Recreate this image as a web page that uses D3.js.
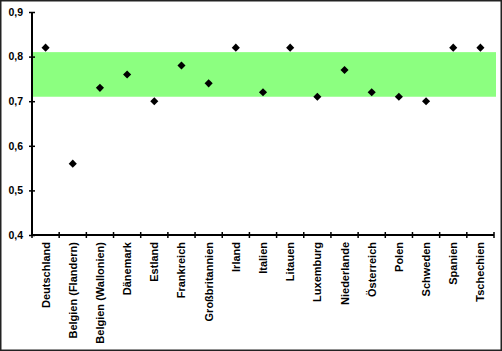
<!DOCTYPE html>
<html><head><meta charset="utf-8">
<script src="https://cdn.jsdelivr.net/npm/d3@7"></script>
<style>body{margin:0;background:#fff}svg{display:block}</style>
</head><body><svg id="c" width="502" height="351"></svg>
<script>
const categories = ["Deutschland","Belgien (Flandern)","Belgien (Wallonien)","Dänemark","Estland","Frankreich","Großbritannien","Irland","Italien","Litauen","Luxemburg","Niederlande","Österreich","Polen","Schweden","Spanien","Tschechien"];
const values = [0.82,0.56,0.73,0.76,0.70,0.78,0.74,0.82,0.72,0.82,0.71,0.77,0.72,0.71,0.70,0.82,0.82];
const band = [0.71, 0.81];
const yTicks = [0.4,0.5,0.6,0.7,0.8,0.9];

(function(){
const svg = d3.select("#c");
const mL = 32, mR = 494, mT = 12, mB = 235;
const x = d3.scaleBand().domain(categories).range([mL, mR]);
const y = d3.scaleLinear().domain([0.4, 0.9]).range([mB, mT]);

svg.append("rect").attr("x",0.75).attr("y",0.75).attr("width",500.5).attr("height",349.5)
  .attr("fill","#fff").attr("stroke","#222").attr("stroke-width",1.5);

svg.append("rect").attr("x",mL).attr("y",y(band[1])).attr("width",496-mL)
  .attr("height",y(band[0])-y(band[1])).attr("fill","#8cff80");

const font = "'Liberation Sans', Arial, sans-serif";
const ya = svg.append("g").attr("transform",`translate(${mL},0)`)
  .call(d3.axisLeft(y).tickValues(yTicks).tickSize(3).tickFormat(d=>d3.format(".1f")(d).replace(".",",")));
ya.select(".domain").attr("stroke","#000").attr("stroke-width",2).attr("d",`M0,${mT}V${mB}`);
ya.selectAll(".tick line").attr("x1",-3).attr("x2",3).attr("stroke","#000").attr("stroke-width",1.5);
ya.selectAll(".tick text").attr("x",-9).attr("font-family",font).attr("font-weight","bold").attr("font-size",10.5).attr("fill","#000");

const xa = svg.append("g").attr("transform",`translate(0,${mB})`)
  .call(d3.axisBottom(x).tickSize(0).tickFormat(""));
xa.select(".domain").attr("stroke","#000").attr("stroke-width",2).attr("d",`M${mL},0H${mR}`);
const edges = categories.map(c=>x(c)+x.bandwidth()).concat([mL]);
xa.selectAll(".edge").data(edges).enter().append("line")
  .attr("x1",d=>d).attr("x2",d=>d).attr("y1",-3).attr("y2",3).attr("stroke","#000").attr("stroke-width",1.5);

svg.append("g").selectAll("text").data(categories).enter().append("text")
  .attr("transform",d=>`translate(${x(d)+x.bandwidth()/2+4},242) rotate(-90)`)
  .attr("text-anchor","end").attr("font-family",font).attr("font-weight","bold").attr("font-size",11)
  .text(d=>d);

svg.append("g").selectAll("path").data(values).enter().append("path")
  .attr("d",d3.symbol(d3.symbolDiamond2,42))
  .attr("transform",(d,i)=>`translate(${x(categories[i])+x.bandwidth()/2},${y(d)})`)
  .attr("fill","#000");
})();
</script></body></html>
